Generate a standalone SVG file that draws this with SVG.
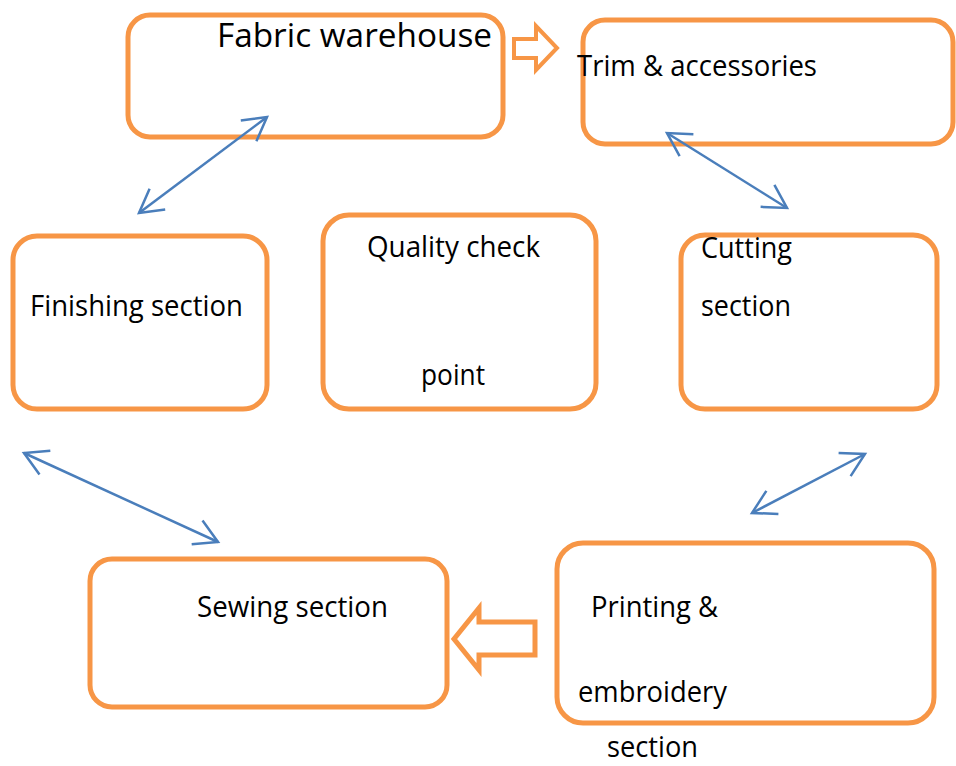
<svg xmlns="http://www.w3.org/2000/svg" width="956" height="766" viewBox="0 0 956 766">
<defs>
<style>
.box{fill:#fff;stroke:#f79646;stroke-width:5}
.blk{fill:#fff;stroke:#f79646;stroke-width:4;stroke-linejoin:miter}
.blk2{stroke-width:5}
.t{font-family:"Open Sans","Noto Sans","Liberation Sans",sans-serif;font-size:29px;fill:#000}
.big{font-size:32px}
.con{stroke:#4a7ebb;stroke-width:2.5;fill:none;marker-start:url(#ah);marker-end:url(#ah)}
</style>
<marker id="ah" markerUnits="userSpaceOnUse" markerWidth="40" markerHeight="40" refX="0" refY="0" viewBox="-30 -20 40 40" orient="auto-start-reverse" overflow="visible">
<path d="M-23,-13 L0,0 L-23,13" fill="none" stroke="#4a7ebb" stroke-width="2.5"/>
</marker>
</defs>
<rect width="956" height="766" fill="#fff"/>
<g id="fabric">
<rect class="box" x="128" y="15" width="375" height="122" rx="22"/>
<text class="t big" x="217" y="47" textLength="275" lengthAdjust="spacingAndGlyphs">Fabric warehouse</text>
</g>
<g id="trim">
<rect class="box" x="583" y="20" width="370" height="124" rx="22"/>
<text class="t" x="577" y="76" textLength="240" lengthAdjust="spacingAndGlyphs">Trim &amp; accessories</text>
</g>
<g id="finishing">
<rect class="box" x="13" y="236" width="254" height="173" rx="24"/>
<text class="t" x="30" y="316" textLength="213" lengthAdjust="spacingAndGlyphs">Finishing section</text>
</g>
<g id="quality">
<rect class="box" x="323" y="215" width="273" height="194" rx="26"/>
<text class="t" x="367" y="257" textLength="173" lengthAdjust="spacingAndGlyphs">Quality check</text>
<text class="t" x="421" y="385" textLength="64" lengthAdjust="spacingAndGlyphs">point</text>
</g>
<g id="cutting">
<rect class="box" x="681" y="235" width="256" height="174" rx="24"/>
<text class="t" x="701" y="258" textLength="91" lengthAdjust="spacingAndGlyphs">Cutting</text>
<text class="t" x="701" y="316" textLength="90" lengthAdjust="spacingAndGlyphs">section</text>
</g>
<g id="sewing">
<rect class="box" x="90" y="559" width="357" height="148" rx="22"/>
<text class="t" x="197" y="617" textLength="191" lengthAdjust="spacingAndGlyphs">Sewing section</text>
</g>
<g id="printing">
<rect class="box" x="557" y="543" width="377" height="180" rx="26"/>
<text class="t" x="591" y="617" textLength="127" lengthAdjust="spacingAndGlyphs">Printing &amp;</text>
<text class="t" x="578" y="702" textLength="149" lengthAdjust="spacingAndGlyphs">embroidery</text>
<text class="t" x="607" y="757" textLength="91" lengthAdjust="spacingAndGlyphs">section</text>
</g>
<g id="connectors">
<polygon class="blk" points="514,39 536,39 536,26 557,48 536,70 536,58 514,58"/>
<polygon class="blk blk2" points="535,622 479,622 479,608 454,639 479,670 479,655 535,655"/>
<line class="con" x1="139" y1="213" x2="267" y2="117"/>
<line class="con" x1="667" y1="133" x2="787" y2="208"/>
<line class="con" x1="24" y1="453" x2="218" y2="542"/>
<line class="con" x1="865" y1="454" x2="752" y2="513"/>
</g>
</svg>
